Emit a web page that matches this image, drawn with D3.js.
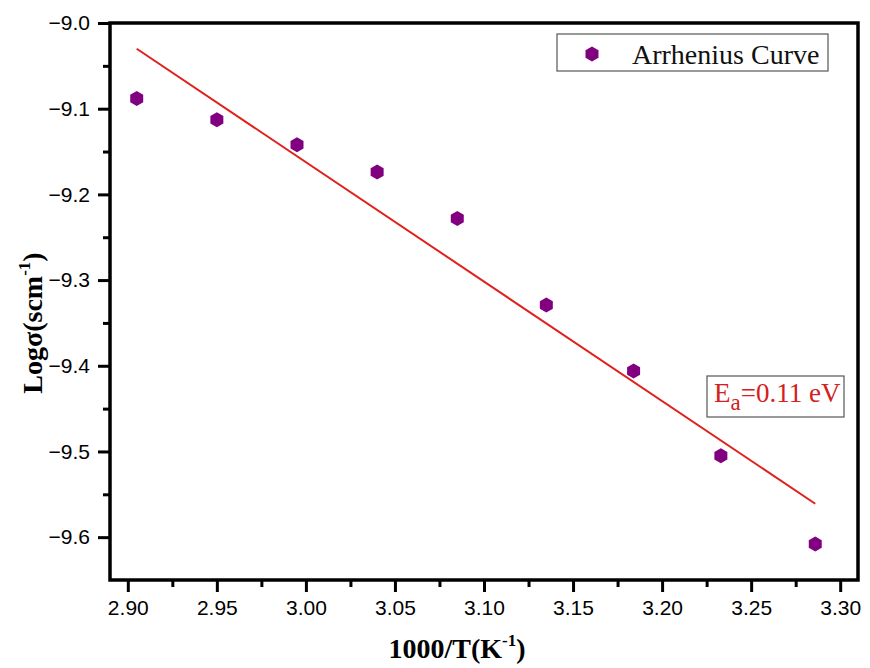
<!DOCTYPE html>
<html><head><meta charset="utf-8">
<script src="https://cdn.jsdelivr.net/npm/d3@7"></script>
<style>body{margin:0;background:#fff}</style>
</head><body>
<svg id="c" width="870" height="668"></svg>
<script>
const xVals = [2.905, 2.950, 2.995, 3.040, 3.085, 3.135, 3.184, 3.233, 3.286];
const yVals = [-9.088, -9.113, -9.142, -9.174, -9.228, -9.329, -9.406, -9.505, -9.608];
const fitX = [2.905, 3.286];
const fitY = [-9.030, -9.561];
const xTicks = [2.90, 2.95, 3.00, 3.05, 3.10, 3.15, 3.20, 3.25, 3.30];
const yTicks = [-9.0, -9.1, -9.2, -9.3, -9.4, -9.5, -9.6];
const legendLabel = "Arrhenius Curve";

const svg = d3.select("#c");
const L = 110, R = 858, T = 23, B = 580;
const x = d3.scaleLinear().domain([2.89, 3.31]).range([L, R]);
const y = d3.scaleLinear().domain([-9.65, -9.0]).range([B, T]);

const xMinor = d3.range(2.925, 3.31, 0.05);
const yMinor = d3.range(-9.05, -9.65, -0.1);

// minor ticks
svg.append("g").attr("transform", `translate(0,${B})`)
  .call(d3.axisBottom(x).tickValues(xMinor).tickSize(7).tickFormat(""))
  .call(g => g.select(".domain").remove())
  .selectAll("line").attr("stroke", "#000").attr("stroke-width", 3);
svg.append("g").attr("transform", `translate(${L},0)`)
  .call(d3.axisLeft(y).tickValues(yMinor).tickSize(7).tickFormat(""))
  .call(g => g.select(".domain").remove())
  .selectAll("line").attr("stroke", "#000").attr("stroke-width", 3);

// major ticks
const gx = svg.append("g").attr("transform", `translate(0,${B})`)
  .call(d3.axisBottom(x).tickValues(xTicks).tickSize(12).tickPadding(8).tickFormat(d3.format(".2f")));
gx.select(".domain").remove();
gx.selectAll("line").attr("stroke", "#000").attr("stroke-width", 3);
gx.selectAll("text").attr("font-family", "Liberation Sans, Arial, sans-serif").attr("font-size", 21).attr("fill", "#000");

const gy = svg.append("g").attr("transform", `translate(${L},0)`)
  .call(d3.axisLeft(y).tickValues(yTicks).tickSize(12).tickPadding(8).tickFormat(d3.format(".1f")));
gy.select(".domain").remove();
gy.selectAll("line").attr("stroke", "#000").attr("stroke-width", 3);
gy.selectAll("text").attr("font-family", "Liberation Sans, Arial, sans-serif").attr("font-size", 21).attr("fill", "#000");

// frame
svg.append("rect").attr("x", L).attr("y", T).attr("width", R - L).attr("height", B - T)
  .attr("fill", "none").attr("stroke", "#000").attr("stroke-width", 3.5);

// fit line
svg.append("line")
  .attr("x1", x(fitX[0])).attr("y1", y(fitY[0]))
  .attr("x2", x(fitX[1])).attr("y2", y(fitY[1]))
  .attr("stroke", "#e0201c").attr("stroke-width", 2);

// hexagon markers
const hex = r => {
  const pts = d3.range(6).map(i => {
    const a = Math.PI / 3 * i - Math.PI / 2;
    return [r * Math.cos(a), r * Math.sin(a)];
  });
  return "M" + pts.map(p => p.join(",")).join("L") + "Z";
};
svg.append("g").selectAll("path").data(xVals.map((v, i) => [v, yVals[i]])).join("path")
  .attr("d", hex(7.5))
  .attr("transform", d => `translate(${x(d[0])},${y(d[1])})`)
  .attr("fill", "#800080");

// legend
svg.append("rect").attr("x", 557).attr("y", 34).attr("width", 271).attr("height", 37)
  .attr("fill", "#fff").attr("stroke", "#555").attr("stroke-width", 1.2);
svg.append("path").attr("d", hex(7.5)).attr("transform", "translate(592,54)").attr("fill", "#800080");
svg.append("text").attr("x", 632).attr("y", 64).text(legendLabel)
  .attr("font-family", "Liberation Serif, Times New Roman, serif").attr("font-size", 28).attr("fill", "#111");

// Ea box
svg.append("rect").attr("x", 707).attr("y", 376).attr("width", 137).attr("height", 41)
  .attr("fill", "#fff").attr("stroke", "#555").attr("stroke-width", 1.2);
const ea = svg.append("text").attr("x", 714).attr("y", 402)
  .attr("font-family", "Liberation Serif, Times New Roman, serif").attr("font-size", 27).attr("fill", "#d42020");
ea.append("tspan").text("E");
ea.append("tspan").text("a").attr("font-size", 23).attr("dy", 8);
ea.append("tspan").text("=0.11 eV").attr("dy", -8);

// axis titles
const xt = svg.append("text").attr("x", 457).attr("y", 658).attr("text-anchor", "middle")
  .attr("font-family", "Liberation Serif, Times New Roman, serif").attr("font-size", 28).attr("font-weight", "bold");
xt.append("tspan").text("1000/T(K");
xt.append("tspan").text("-1").attr("font-size", 17).attr("dy", -12);
xt.append("tspan").text(")").attr("dy", 12);

const yt = svg.append("text").attr("transform", "translate(42,323) rotate(-90)").attr("text-anchor", "middle")
  .attr("font-family", "Liberation Serif, Times New Roman, serif").attr("font-size", 28).attr("font-weight", "bold");
yt.append("tspan").text("Logσ(scm");
yt.append("tspan").text("-1").attr("font-size", 17).attr("dy", -12);
yt.append("tspan").text(")").attr("dy", 12);
</script>
</body></html>
